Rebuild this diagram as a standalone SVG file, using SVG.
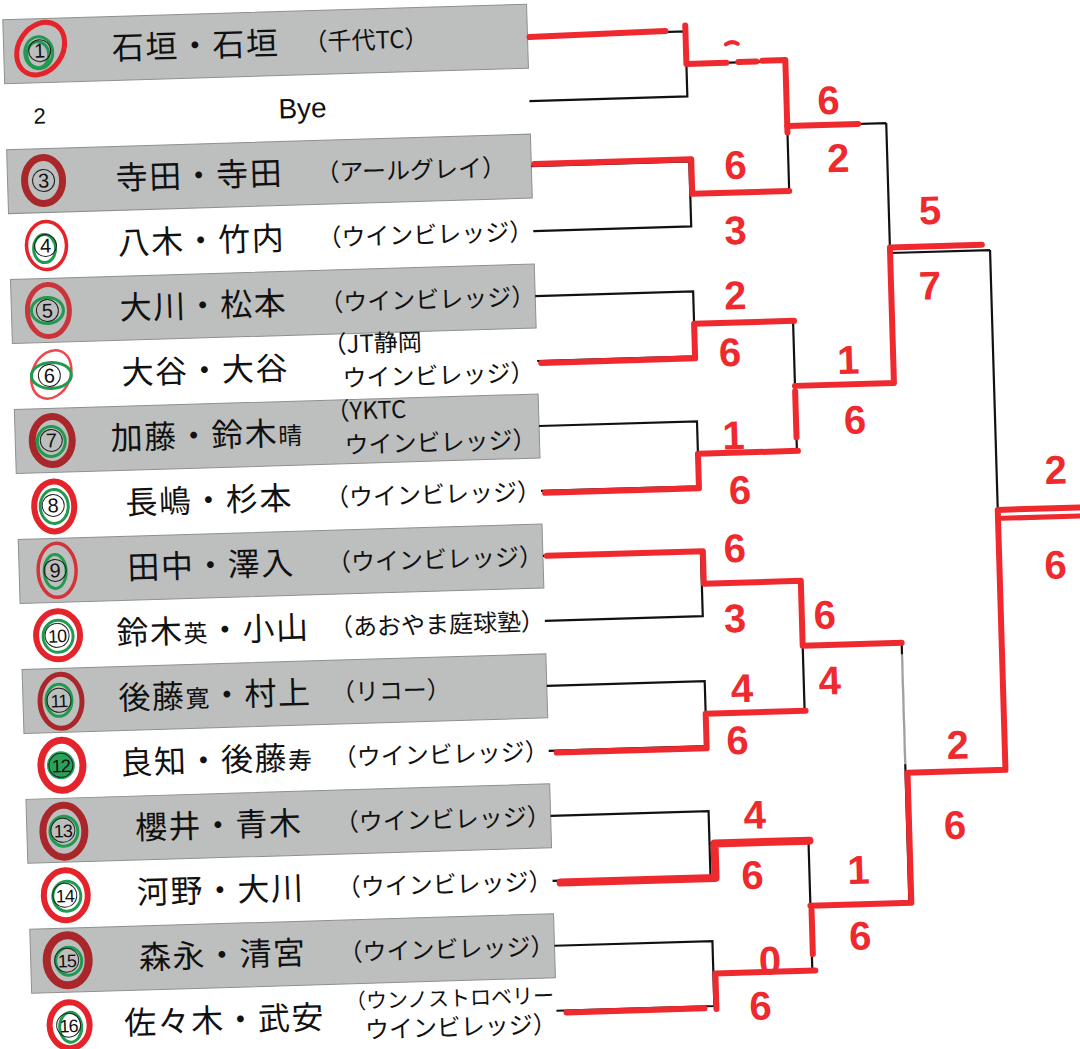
<svg xmlns="http://www.w3.org/2000/svg" width="1080" height="1049" viewBox="0 0 1080 1049">
<defs>
<style>
.bar{fill:#bdbfbe;stroke:#8e908f;stroke-width:1}
.nm{font-family:"Noto Sans CJK JP","Noto Sans",sans-serif;font-size:32px;fill:#111;text-anchor:middle;letter-spacing:1.5px}
.sm{font-size:24px}
.cl{font-family:"Noto Sans CJK JP","Noto Sans",sans-serif;font-size:24px;fill:#111}
.by{font-family:"Liberation Sans",Arial,sans-serif;font-size:28px;fill:#111;text-anchor:middle}
.bk{fill:none;stroke:#111;stroke-width:2.2}
.rd{fill:none;stroke:#ee2a2f;stroke-width:6;stroke-linecap:round;stroke-linejoin:round}
.sc{font-family:"Liberation Sans",sans-serif;font-weight:bold;font-size:40px;fill:#ee2a2f;text-anchor:middle}
.sn{font-family:"Liberation Sans",sans-serif;font-size:20px;fill:#111;text-anchor:middle}
.s2{font-size:18px;letter-spacing:-1px}
.pc{fill:none;stroke:#222;stroke-width:1}
.r1{fill:none;stroke:#e5232b;stroke-width:5}
.r2{fill:none;stroke:#a9262b;stroke-width:7}
.r3{fill:none;stroke:#f0474c;stroke-width:2.5}
.gr{fill:none;stroke:#1f9a4e;stroke-width:3}
</style>
</defs>
<rect x="0" y="0" width="1080" height="1049" fill="#ffffff"/>
<g transform="rotate(-1.7 540 525)">

<g id="seed1">
<rect class="bar" x="18" y="4" width="524" height="64"/>
<ellipse class="r1" cx="55" cy="34" rx="22" ry="28" transform="rotate(35 55 34)"/>
<ellipse class="gr" cx="53" cy="38" rx="14" ry="16"/>
<ellipse class="gr" cx="52" cy="40" rx="11" ry="13"/>
<circle class="pc" cx="54" cy="36" r="11"/>
<text class="sn" x="54" y="43">1</text>
<text class="nm" x="210" y="47">石垣・石垣</text>
<text class="cl" x="318" y="44">（千代TC）</text>
</g>

<g id="seed2">
<text class="sn" x="52" y="109" style="font-size:22px">2</text>
<text class="by" x="315" y="111">Bye</text>
</g>

<g id="seed3">
<rect class="bar" x="18" y="134" width="524" height="64"/>
<ellipse class="r2" cx="54" cy="166" rx="19" ry="23"/>
<circle class="pc" cx="54" cy="166" r="11"/>
<text class="sn" x="54" y="173">3</text>
<text class="nm" x="210" y="177">寺田・寺田</text>
<text class="cl" x="326" y="175">（アールグレイ）</text>
</g>

<g id="seed4">
<ellipse class="r1" cx="55" cy="231" rx="20" ry="24" style="stroke-width:3.5"/>
<ellipse class="gr" cx="53" cy="234" rx="11" ry="14"/>
<circle class="pc" cx="54" cy="231" r="11"/>
<text class="sn" x="54" y="238">4</text>
<text class="nm" x="210" y="242">八木・竹内</text>
<text class="cl" x="326" y="240">（ウインビレッジ）</text>
</g>

<g id="seed5">
<rect class="bar" x="18" y="264" width="524" height="64"/>
<ellipse class="r1" cx="55" cy="296" rx="21" ry="26" style="stroke:#c8353a"/>
<ellipse class="gr" cx="54" cy="296" rx="16" ry="13"/>
<circle class="pc" cx="54" cy="296" r="11"/>
<text class="sn" x="54" y="303">5</text>
<text class="nm" x="210" y="307">大川・松本</text>
<text class="cl" x="326" y="305">（ウインビレッジ）</text>
</g>

<g id="seed6">
<ellipse class="r3" cx="56" cy="360" rx="19" ry="25" transform="rotate(25 56 360)"/>
<ellipse class="gr" cx="56" cy="361" rx="20" ry="13"/>
<circle class="pc" cx="54" cy="361" r="11"/>
<text class="sn" x="54" y="368">6</text>
<text class="nm" x="210" y="372">大谷・大谷</text>
<text class="cl" x="328" y="347">（JT静岡</text>
<text class="cl" x="347" y="381">ウインビレッジ）</text>
</g>

<g id="seed7">
<rect class="bar" x="18" y="394" width="524" height="64"/>
<ellipse class="r2" cx="55" cy="426" rx="20" ry="24"/>
<ellipse class="gr" cx="54" cy="427" rx="14" ry="15"/>
<circle class="pc" cx="54" cy="426" r="11"/>
<text class="sn" x="54" y="433">7</text>
<text class="nm" x="210" y="437">加藤・鈴木<tspan class="sm">晴</tspan></text>
<text class="cl" x="329" y="414">（YKTC</text>
<text class="cl" x="347" y="448">ウインビレッジ）</text>
</g>

<g id="seed8">
<ellipse class="r1" cx="55" cy="492" rx="20" ry="25" style="stroke-width:6"/>
<ellipse class="gr" cx="55" cy="492" rx="14" ry="17"/>
<circle class="pc" cx="54" cy="491" r="11"/>
<text class="sn" x="54" y="498">8</text>
<text class="nm" x="210" y="502">長嶋・杉本</text>
<text class="cl" x="326" y="500">（ウインビレッジ）</text>
</g>

<g id="seed9">
<rect class="bar" x="18" y="524" width="524" height="64"/>
<ellipse class="r1" cx="56" cy="556" rx="19" ry="27" style="stroke-width:3.5;stroke:#d2343a"/>
<ellipse class="gr" cx="54" cy="557" rx="11" ry="17"/>
<circle class="pc" cx="54" cy="556" r="11"/>
<text class="sn" x="54" y="563">9</text>
<text class="nm" x="210" y="567">田中・澤入</text>
<text class="cl" x="326" y="565">（ウインビレッジ）</text>
</g>

<g id="seed10">
<ellipse class="r1" cx="55" cy="621" rx="22" ry="24" style="stroke-width:6"/>
<ellipse class="gr" cx="55" cy="622" rx="15" ry="16"/>
<circle class="pc" cx="54" cy="621" r="12"/>
<text class="sn s2" x="54" y="628">10</text>
<text class="nm" x="210" y="632">鈴木<tspan class="sm">英</tspan>・小山</text>
<text class="cl" x="326" y="630">（あおやま庭球塾）</text>
</g>

<g id="seed11">
<rect class="bar" x="18" y="654" width="524" height="64"/>
<ellipse class="r2" cx="56" cy="687" rx="21" ry="27" style="stroke-width:5"/>
<ellipse class="gr" cx="54" cy="686" rx="13" ry="16"/>
<circle class="pc" cx="54" cy="686" r="12"/>
<text class="sn s2" x="54" y="693">11</text>
<text class="nm" x="210" y="697">後藤<tspan class="sm">寛</tspan>・村上</text>
<text class="cl" x="326" y="695">（リコー）</text>
</g>

<g id="seed12">
<ellipse class="r1" cx="55" cy="751" rx="21" ry="25" style="stroke-width:7"/>
<circle cx="54" cy="751" r="14" fill="#2aa35a"/>
<circle class="pc" cx="54" cy="751" r="12"/>
<text class="sn s2" x="54" y="758">12</text>
<text class="nm" x="210" y="762">良知・後藤<tspan class="sm">寿</tspan></text>
<text class="cl" x="326" y="760">（ウインビレッジ）</text>
</g>

<g id="seed13">
<rect class="bar" x="18" y="784" width="524" height="64"/>
<ellipse class="r2" cx="55" cy="817" rx="21" ry="26"/>
<ellipse class="gr" cx="55" cy="817" rx="14" ry="15"/>
<circle class="pc" cx="54" cy="816" r="12"/>
<text class="sn s2" x="54" y="823">13</text>
<text class="nm" x="210" y="827">櫻井・青木</text>
<text class="cl" x="326" y="825">（ウインビレッジ）</text>
</g>

<g id="seed14">
<ellipse class="r1" cx="55" cy="881" rx="22" ry="25" style="stroke-width:6"/>
<ellipse class="gr" cx="56" cy="882" rx="14" ry="15"/>
<circle class="pc" cx="54" cy="881" r="12"/>
<text class="sn s2" x="54" y="888">14</text>
<text class="nm" x="210" y="892">河野・大川</text>
<text class="cl" x="326" y="890">（ウインビレッジ）</text>
</g>

<g id="seed15">
<rect class="bar" x="18" y="914" width="524" height="64"/>
<ellipse class="r2" cx="55" cy="946" rx="21" ry="25" style="stroke-width:8"/>
<ellipse class="gr" cx="56" cy="947" rx="13" ry="14"/>
<circle class="pc" cx="54" cy="946" r="12"/>
<text class="sn s2" x="54" y="953">15</text>
<text class="nm" x="210" y="957">森永・清宮</text>
<text class="cl" x="326" y="955">（ウインビレッジ）</text>
</g>

<g id="seed16">
<ellipse class="r1" cx="55" cy="1011" rx="20" ry="23" style="stroke-width:6"/>
<ellipse class="gr" cx="56" cy="1013" rx="11" ry="15"/>
<circle class="pc" cx="54" cy="1011" r="12"/>
<text class="sn s2" x="54" y="1018">16</text>
<text class="nm" x="210" y="1022">佐々木・武安</text>
<text class="cl" x="331" y="1003" style="font-size:21px">（ウンノストロベリー</text>
<text class="cl" x="350" y="1033">ウインビレッジ）</text>
</g>

<g id="connectors">
<path class="bk" d="M542 36H700V101H542M700 68.5H799
M542 166H700V231H542M700 198.5H799
M542 296H700V361H542M700 328.5H799
M542 426H700V491H542M700 458.5H799
M542 556H700V621H542M700 588.5H799
M542 686H700V751H542M700 718.5H799
M542 816H700V881H542M700 848.5H799
M542 946H700V1011H542M700 978.5H799
M799 68.5V198.5M799 133.5H898
M799 328.5V458.5M799 393.5H898
M799 588.5V718.5M799 653.5H898
M799 848.5V978.5M799 913.5H898
M898 133.5V393.5M898 263.5H998
M898 653.5V913.5M898 783.5H998
M998 263.5V783.5M998 523.5H1090"/>
<g class="rd">
<path d="M544 37L680 35"/>
<path d="M700 30V68.5H740M752 68H770M776 67.5H799V140"/>
<path d="M799 133.5H870"/>
<path d="M740 50q6 -4 12 0" style="stroke-width:4"/>
<path d="M545 164H702V198.5H799"/>
<path d="M546 363H700V328.5H800"/>
<path d="M546 493H700V458.5H800"/>
<path d="M799 399V445"/>
<path d="M799 393.5H898V258H990"/>
<path d="M546 556H702V588.5H799V653.5H898"/>
<path d="M550 753H700V718.5H800"/>
<path d="M550 883H705V848.5H800" style="stroke-width:8"/>
<path d="M552 1013H690M702 1014V978.5H802"/>
<path d="M800 918V962"/>
<path d="M799 913.5H900V783.5H998V523.5H1090"/>
<path d="M1002 532H1090" style="stroke-width:5"/>
</g>
<path d="M898 665V775" stroke="#ffffff" stroke-width="3" opacity="0.6"/>
</g>

<g id="scores">
<text class="sc" x="841" y="123">6</text>
<text class="sc" x="849" y="181">2</text>
<text class="sc" x="746" y="185">6</text>
<text class="sc" x="744" y="250">3</text>
<text class="sc" x="742" y="315">2</text>
<text class="sc" x="735" y="372">6</text>
<text class="sc" x="736" y="455">1</text>
<text class="sc" x="741" y="510">6</text>
<text class="sc" x="853" y="383">1</text>
<text class="sc" x="858" y="443">6</text>
<text class="sc" x="939" y="236">5</text>
<text class="sc" x="937" y="311">7</text>
<text class="sc" x="734" y="568">6</text>
<text class="sc" x="732" y="638">3</text>
<text class="sc" x="737" y="708">4</text>
<text class="sc" x="731" y="760">6</text>
<text class="sc" x="822" y="637">6</text>
<text class="sc" x="825" y="703">4</text>
<text class="sc" x="746" y="835">4</text>
<text class="sc" x="742" y="895">6</text>
<text class="sc" x="757" y="981">0</text>
<text class="sc" x="746" y="1026">6</text>
<text class="sc" x="848" y="893">1</text>
<text class="sc" x="848" y="959">6</text>
<text class="sc" x="951" y="771">2</text>
<text class="sc" x="946" y="851">6</text>
<text class="sc" x="1057" y="499">2</text>
<text class="sc" x="1054" y="594">6</text>
</g>
</g>
</svg>
